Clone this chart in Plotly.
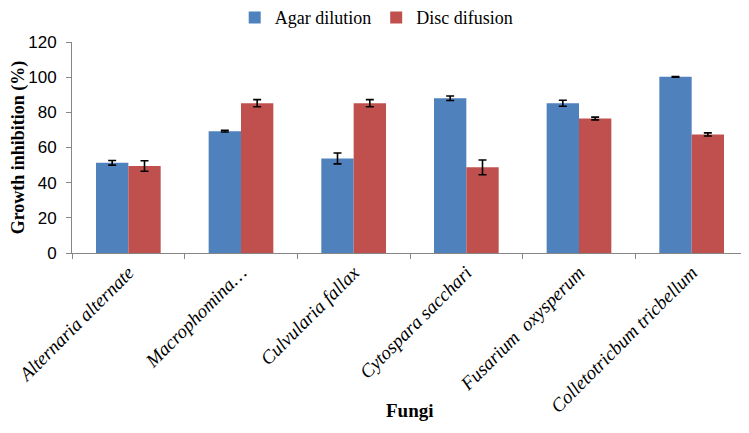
import plotly.graph_objects as go

fungi = ["Alternaria alternate", "Macrophomina…", "Culvularia fallax",
         "Cytospara sacchari", "Fusarium  oxysperum", "Colletotricbum tricbellum"]
agar = [51.3, 69.3, 53.8, 88.0, 85.2, 100.2]
agar_err = [1.3, 0.5, 3.1, 1.3, 1.7, 0.2]
disc = [49.5, 85.2, 85.2, 48.7, 76.5, 67.4]
disc_err = [3.0, 2.0, 2.0, 4.2, 0.8, 0.9]
y_ticks = [0, 20, 40, 60, 80, 100, 120]

err_style = dict(type="data", visible=True, color="black", thickness=1.6, width=4)

fig = go.Figure()
fig.add_trace(go.Bar(name="Agar dilution", x=fungi, y=agar,
                     error_y=dict(array=agar_err, **err_style),
                     marker=dict(color="#4F81BD", line=dict(width=0))))
fig.add_trace(go.Bar(name="Disc difusion", x=fungi, y=disc,
                     error_y=dict(array=disc_err, **err_style),
                     marker=dict(color="#C0504D", line=dict(width=0))))

# page body has an 8px margin, so the figure is sized/margined to compensate
fig.update_layout(
    width=741, height=425,
    margin=dict(l=64, r=1, t=34, b=180, autoexpand=False),
    paper_bgcolor="white", plot_bgcolor="white",
    barmode="group", bargap=0.426, bargroupgap=0,
    showlegend=True,
    legend=dict(orientation="h", x=0.45, xanchor="center", y=1.115, yanchor="middle",
                font=dict(family="Liberation Serif", size=18, color="black"),
                itemwidth=30, tracegroupgap=0, borderwidth=0,
                bgcolor="rgba(0,0,0,0)"),
    xaxis=dict(
        automargin=False,
        tickmode="array", tickvals=fungi,
        ticktext=["<i>%s</i>" % f for f in fungi],
        tickangle=-45,
        tickfont=dict(family="Liberation Serif", size=19, color="black"),
        showline=True, linecolor="#868686", linewidth=1,
        ticks="outside", tickson="boundaries", ticklen=5, tickcolor="#868686",
        showgrid=False, zeroline=False,
    ),
    yaxis=dict(
        automargin=False,
        range=[0, 120], tickvals=y_ticks,
        tickfont=dict(family="Liberation Sans", size=17, color="black"),
        showline=True, linecolor="#868686", linewidth=1,
        ticks="outside", ticklen=5, tickcolor="#868686",
        showgrid=False, zeroline=False, ticklabelstandoff=6,
        title=dict(text="<b>Growth inhibition (%)</b>",
                   font=dict(family="Liberation Serif", size=18, color="black"),
                   standoff=4),
    ),
    annotations=[dict(text="<b>Fungi</b>", xref="paper", yref="paper",
                      x=0.5, y=(253 - 410) / 211, xanchor="center", yanchor="middle",
                      showarrow=False,
                      font=dict(family="Liberation Serif", size=19, color="black"))],
)

fig.write_html("out.html")
